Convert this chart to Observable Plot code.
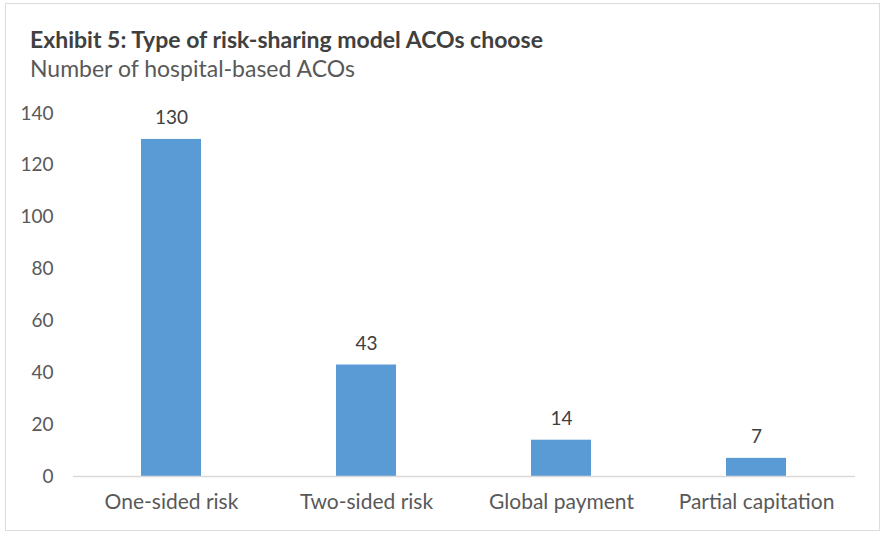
<!DOCTYPE html>
<html>
<head>
<meta charset="utf-8">
<script src="https://cdn.jsdelivr.net/npm/d3@7"></script>
<script src="https://cdn.jsdelivr.net/npm/@observablehq/plot@0.6"></script>
<style>
  html, body { margin: 0; padding: 0; background: #fff; }
  #wrap { position: relative; width: 882px; height: 533px; overflow: hidden; font-family: Lato, "Open Sans", sans-serif; }
  #frame { position: absolute; left: 5px; top: 3px; width: 873px; height: 526px; border: 1.5px solid #dcdcdc; }
  #title { position: absolute; left: 30px; top: 27.5px; font-size: 23px; line-height: 1; font-weight: bold; color: #404040; white-space: nowrap; }
  #subtitle { position: absolute; left: 30px; top: 56.5px; font-size: 23px; line-height: 1; color: #595959; white-space: nowrap; }
  #chart { position: absolute; left: 0; top: 90px; }
</style>
</head>
<body>
<div id="wrap">
  <div id="frame"></div>
  <div id="title">Exhibit 5: Type of risk-sharing model ACOs choose</div>
  <div id="subtitle">Number of hospital-based ACOs</div>
  <div id="chart"></div>
</div>
<script>
const categories = ["One-sided risk", "Two-sided risk", "Global payment", "Partial capitation"];
const values = [130, 43, 14, 7];
const yTicks = [0, 20, 40, 60, 80, 100, 120, 140];

const data = categories.map((c, i) => ({category: c, value: values[i]}));

const chart = Plot.plot({
  width: 882,
  height: 443,
  marginLeft: 73,
  marginRight: 27,
  marginTop: 23,
  marginBottom: 57,
  style: {fontFamily: "Lato, 'Open Sans', sans-serif", fontSize: "19px", color: "#595959", background: "transparent"},
  x: {domain: categories, paddingInner: 0.69, paddingOuter: 0.345, label: null},
  y: {domain: [0, 140], label: null},
  marks: [
    Plot.axisY({ticks: yTicks, tickSize: 0, tickPadding: 20, fontSize: 19, fill: "#595959", label: null}),
    Plot.axisX({tickSize: 0, tickPadding: 18, fontSize: 21, fill: "#595959", label: null}),
    Plot.barY(data, {x: "category", y: "value", fill: "#5b9bd5"}),
    Plot.ruleY([0], {stroke: "#d9d9d9", strokeWidth: 1.5}),
    Plot.text(data, {x: "category", y: "value", text: d => String(d.value), lineAnchor: "bottom", dy: -15, fontSize: 19, fill: "#404040"})
  ]
});
document.getElementById("chart").appendChild(chart);
</script>
</body>
</html>
